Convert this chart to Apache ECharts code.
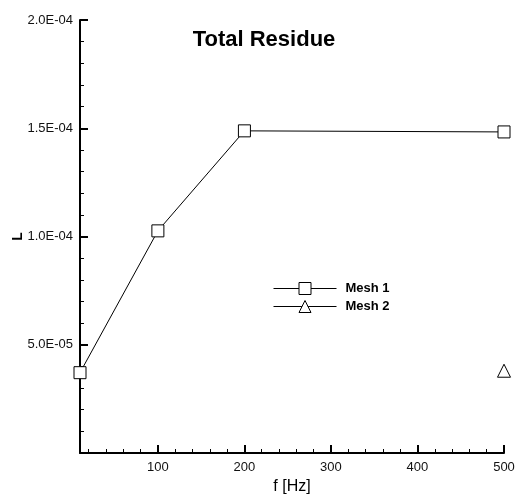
<!DOCTYPE html>
<html lang="en">
<head>
  <meta charset="UTF-8">
  <title>Total Residue</title>
  <style>
    html, body { margin: 0; padding: 0; background: #fff; }
    #chart { width: 516px; height: 495px; }
  </style>
</head>
<body>
<div id="chart"></div>
<script src="https://cdn.jsdelivr.net/npm/echarts@6/dist/echarts.min.js"></script>
<script>
// data
const freq1 = [10, 100, 200, 500];
const mesh1 = [3.71e-5, 1.026e-4, 1.488e-4, 1.483e-4];
const freq2 = [500];
const mesh2 = [3.8e-5];
const xMajorTicks = [100, 200, 300, 400, 500];
const xMinorTicks = [20, 40, 60, 80, 120, 140, 160, 180, 220, 240, 260, 280, 320, 340, 360, 380, 420, 440, 460, 480];

const font = 'Liberation Sans, Arial, sans-serif';

function sci(v) {
  if (v === 0) return '';
  const s = v.toExponential(1).toUpperCase();   // 5.0E-5
  const m = s.match(/^(.*)E([+-])(\d+)$/);
  return m[1] + 'E' + m[2] + m[3].padStart(2, '0');
}

let myChart = echarts.init(document.getElementById('chart'));
myChart.setOption({
  animation: false,
  title: {
    text: 'Total Residue',
    left: 264,
    top: 29,
    padding: 0,
    textAlign: 'center',
    textStyle: { fontFamily: font, fontSize: 22, fontWeight: 'bold', color: '#000' }
  },
  legend: {
    orient: 'vertical',
    left: 273,
    top: 282,
    padding: 0,
    itemWidth: 63,
    itemHeight: 15,
    itemGap: 5,
    itemStyle: { borderWidth: 1 },
    lineStyle: { width: 1 },
    textStyle: { fontFamily: font, fontSize: 13, fontWeight: 'bold', color: '#000', padding: [0, 0, 0, 4] },
    data: ['Mesh 1', 'Mesh 2']
  },
  grid: { left: 80, right: 12, top: 20, bottom: 42, outerBoundsMode: 'none' },
  xAxis: [{
    type: 'value',
    min: 10,
    max: 500,
    name: 'f [Hz]',
    nameLocation: 'middle',
    nameGap: 23,
    nameTextStyle: { fontFamily: font, fontSize: 16, color: '#000' },
    axisLine: { lineStyle: { color: '#000', width: 2 } },
    axisTick: { inside: true, length: 8, lineStyle: { color: '#000', width: 2 }, customValues: xMajorTicks },
    axisLabel: { fontFamily: font, fontSize: 13, color: '#111', margin: 8, customValues: xMajorTicks },
    splitLine: { show: false }
  }, {
    type: 'value',
    min: 10,
    max: 500,
    position: 'bottom',
    axisLine: { show: false },
    axisTick: { inside: true, length: 4, lineStyle: { color: '#000', width: 1 }, customValues: xMinorTicks },
    axisLabel: { show: false, customValues: xMinorTicks },
    splitLine: { show: false }
  }],
  yAxis: {
    type: 'value',
    min: 0,
    max: 2e-4,
    interval: 5e-5,
    name: 'L',
    nameLocation: 'middle',
    nameRotate: 90,
    nameGap: 55,
    nameMoveOverlap: false,
    nameTextStyle: { fontFamily: font, fontSize: 14, fontWeight: 'bold', color: '#000' },
    axisLine: { show: true, lineStyle: { color: '#000', width: 2 } },
    axisTick: { show: true, inside: true, length: 8, lineStyle: { color: '#000', width: 2 } },
    minorTick: { show: true, splitNumber: 5, length: 4, lineStyle: { color: '#000', width: 1 } },
    axisLabel: { fontFamily: font, fontSize: 13, color: '#111', margin: 7, formatter: sci },
    splitLine: { show: false }
  },
  series: [{
    name: 'Mesh 1',
    type: 'line',
    data: freq1.map((f, i) => [f, mesh1[i]]),
    symbol: 'rect',
    symbolSize: 12,
    showAllSymbol: true,
    lineStyle: { color: '#000', width: 1 },
    itemStyle: { color: '#fff', borderColor: '#000', borderWidth: 1 },
    z: 3
  }, {
    name: 'Mesh 2',
    type: 'line',
    data: freq2.map((f, i) => [f, mesh2[i]]),
    symbol: 'triangle',
    symbolSize: 13,
    lineStyle: { color: '#000', width: 1 },
    itemStyle: { color: '#fff', borderColor: '#000', borderWidth: 1 },
    z: 3
  }]
});
window.addEventListener('resize', () => {
  myChart.resize();
});
</script>
</body>
</html>
